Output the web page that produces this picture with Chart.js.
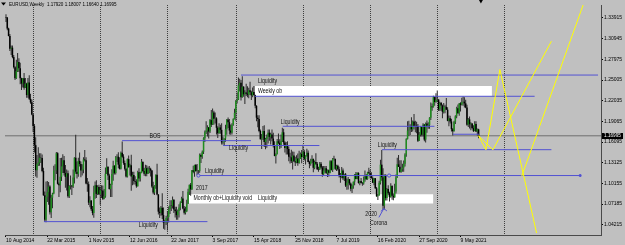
<!DOCTYPE html>
<html><head><meta charset="utf-8">
<script src="https://cdn.jsdelivr.net/npm/chart.js@4.4.0/dist/chart.umd.min.js"></script>
<style>html,body{margin:0;padding:0;background:#c0c0c0;overflow:hidden}canvas{display:block}</style>
</head><body><canvas id="c" width="625" height="245"></canvas>
<script>
// ---- EURUSD weekly candles, first bar = week of 10 Aug 2014 ----
const opens = [
1.3405,1.3400,1.3240,1.3132,1.2950,1.2965,1.2830,1.2685,1.2525,1.2630,
1.2760,1.2670,1.2525,1.2450,1.2525,1.2390,1.2450,1.2285,1.2465,1.2230,
1.2180,1.2005,1.1840,1.1565,1.1205,1.1290,1.1315,1.1385,1.1380,1.1195,
1.0845,1.0495,1.0825,1.0890,1.0970,1.0600,1.0810,1.0870,1.1200,1.1205,
1.1450,1.1010,1.0990,1.1110,1.1260,1.1350,1.1165,1.1110,1.1160,1.0830,
1.0980,1.0985,1.0970,1.1100,1.1385,1.1185,1.1150,1.1340,1.1295,1.1200,
1.1215,1.1360,1.1350,1.1015,1.1005,1.0740,1.0770,1.0645,1.0590,1.0885,
1.0990,1.0865,1.0965,1.0860,1.0920,1.0915,1.0795,1.0830,1.1155,1.1255,
1.1130,1.0935,1.0995,1.1150,1.1270,1.1165,1.1390,1.1400,1.1285,1.1225,
1.1455,1.1400,1.1310,1.1225,1.1115,1.1365,1.1250,1.1275,1.1115,1.1135,
1.1050,1.1040,1.0975,1.1175,1.1085,1.1165,1.1325,1.1195,1.1155,1.1235,
1.1155,1.1230,1.1225,1.1200,1.0970,1.0885,1.0985,1.1140,1.0855,1.0610,
1.0590,1.0665,1.0560,1.0450,1.0455,1.0520,1.0535,1.0645,1.0700,1.0695,
1.0780,1.0640,1.0615,1.0560,1.0620,1.0670,1.0740,1.0800,1.0655,1.0595,
1.0615,1.0725,1.0895,1.0995,1.0930,1.1205,1.1185,1.1280,1.1195,1.1200,
1.1195,1.1425,1.1400,1.1470,1.1665,1.1750,1.1775,1.1820,1.1760,1.1925,
1.1860,1.2035,1.1945,1.1950,1.1815,1.1735,1.1820,1.1785,1.1605,1.1610,
1.1660,1.1795,1.1935,1.1895,1.1775,1.1745,1.1860,1.1940,1.2030,1.2200,
1.2220,1.2425,1.2460,1.2255,1.2405,1.2295,1.2320,1.2305,1.2290,1.2355,
1.2325,1.2280,1.2330,1.2285,1.2130,1.1960,1.1940,1.1770,1.1650,1.1660,
1.1770,1.1610,1.1655,1.1685,1.1745,1.1685,1.1720,1.1660,1.1565,1.1410,
1.1440,1.1620,1.1600,1.1550,1.1625,1.1750,1.1605,1.1525,1.1560,1.1510,
1.1400,1.1390,1.1335,1.1415,1.1335,1.1315,1.1375,1.1310,1.1370,1.1440,
1.1395,1.1470,1.1365,1.1410,1.1455,1.1325,1.1295,1.1335,1.1365,1.1240,
1.1325,1.1300,1.1220,1.1215,1.1300,1.1245,1.1150,1.1200,1.1235,1.1160,
1.1205,1.1170,1.1335,1.1210,1.1370,1.1365,1.1225,1.1270,1.1220,1.1125,
1.1110,1.1200,1.1090,1.1145,1.0985,1.1025,1.1075,1.1015,1.0940,1.0980,
1.1040,1.1145,1.1080,1.1165,1.1020,1.1050,1.1020,1.1015,1.1060,1.1120,
1.1080,1.1175,1.1160,1.1120,1.1090,1.1025,1.1090,1.0945,1.0830,1.0845,
1.1025,1.1285,1.1105,1.0695,1.1140,1.0805,1.0935,1.0875,1.0820,1.0980,
1.0840,1.0815,1.0900,1.1100,1.1290,1.1255,1.1180,1.1220,1.1245,1.1300,
1.1430,1.1655,1.1775,1.1785,1.1840,1.1795,1.1905,1.1840,1.1845,1.1840,
1.1630,1.1715,1.1825,1.1715,1.1860,1.1645,1.1875,1.1835,1.1855,1.1960,
1.2120,1.2110,1.2255,1.2185,1.2215,1.2220,1.2080,1.2170,1.2135,1.2045,
1.2120,1.2115,1.2075,1.1915,1.1950,1.1905,1.1795,1.1765,1.1900,1.1980,
1.2095,1.2025,1.2165,1.2145,1.2180,1.2190,1.2165,1.2105,1.1860,1.1935,
1.1865,1.1875,1.1810,1.1770,1.1870,1.1760,1.1792];
const highs = [
1.3445,1.3401,1.3250,1.3160,1.2995,1.2995,1.2860,1.2700,1.2790,1.2887,
1.2815,1.2750,1.2535,1.2530,1.2600,1.2530,1.2460,1.2530,1.2570,1.2305,
1.2220,1.2010,1.1870,1.1680,1.1425,1.1535,1.1450,1.1450,1.1430,1.1240,
1.0900,1.1043,1.1050,1.1035,1.0990,1.0850,1.0880,1.1270,1.1290,1.1467,
1.1465,1.1030,1.1380,1.1385,1.1436,1.1410,1.1280,1.1215,1.1200,1.0990,
1.1130,1.0990,1.1215,1.1390,1.1714,1.1330,1.1385,1.1460,1.1330,1.1290,
1.1390,1.1495,1.1390,1.1095,1.1045,1.0830,1.0775,1.0690,1.0981,1.1043,
1.1060,1.0990,1.0995,1.0970,1.0990,1.0985,1.0935,1.1245,1.1376,1.1260,
1.1155,1.1010,1.1218,1.1340,1.1275,1.1410,1.1435,1.1464,1.1390,1.1475,
1.1616,1.1435,1.1345,1.1235,1.1375,1.1416,1.1300,1.1427,1.1185,1.1185,
1.1120,1.1075,1.1198,1.1235,1.1185,1.1366,1.1335,1.1240,1.1285,1.1275,
1.1260,1.1265,1.1240,1.1210,1.1040,1.0990,1.1145,1.1300,1.0865,1.0670,
1.0690,1.0874,1.0670,1.0495,1.0550,1.0620,1.0685,1.0775,1.0775,1.0829,
1.0790,1.0680,1.0680,1.0640,1.0715,1.0760,1.0825,1.0906,1.0690,1.0680,
1.0780,1.0940,1.1000,1.1023,1.1210,1.1268,1.1285,1.1296,1.1296,1.1205,
1.1445,1.1445,1.1490,1.1680,1.1776,1.1910,1.1850,1.1825,1.1940,1.2070,
1.2092,1.2060,1.2035,1.1965,1.1835,1.1880,1.1860,1.1880,1.1690,1.1665,
1.1860,1.1940,1.1961,1.1940,1.1862,1.1880,1.1950,1.2088,1.2215,1.2323,
1.2537,1.2520,1.2500,1.2555,1.2410,1.2355,1.2446,1.2410,1.2388,1.2475,
1.2345,1.2395,1.2414,1.2290,1.2140,1.1995,1.1995,1.1790,1.1725,1.1840,
1.1852,1.1670,1.1720,1.1790,1.1790,1.1745,1.1790,1.1745,1.1620,1.1445,
1.1655,1.1734,1.1650,1.1720,1.1815,1.1800,1.1620,1.1610,1.1620,1.1545,
1.1455,1.1500,1.1475,1.1470,1.1400,1.1420,1.1445,1.1486,1.1460,1.1497,
1.1570,1.1500,1.1420,1.1514,1.1490,1.1340,1.1370,1.1420,1.1375,1.1345,
1.1448,1.1325,1.1255,1.1325,1.1325,1.1265,1.1265,1.1265,1.1265,1.1215,
1.1215,1.1350,1.1348,1.1380,1.1412,1.1375,1.1285,1.1285,1.1255,1.1165,
1.1250,1.1230,1.1155,1.1165,1.1085,1.1109,1.1080,1.1030,1.1000,1.1045,
1.1150,1.1179,1.1175,1.1175,1.1055,1.1095,1.1035,1.1115,1.1200,1.1150,
1.1185,1.1239,1.1210,1.1175,1.1115,1.1095,1.1095,1.0965,1.0865,1.1055,
1.1355,1.1495,1.1235,1.1145,1.1145,1.0950,1.0990,1.0895,1.1019,1.0990,
1.0870,1.1010,1.1145,1.1384,1.1423,1.1350,1.1350,1.1300,1.1345,1.1450,
1.1665,1.1908,1.1915,1.1865,1.1966,1.1920,1.2011,1.1915,1.1900,1.1870,
1.1755,1.1835,1.1830,1.1880,1.1870,1.1890,1.1920,1.1895,1.1965,1.2177,
1.2165,1.2273,1.2260,1.2310,1.2349,1.2225,1.2190,1.2185,1.2150,1.2170,
1.2145,1.2243,1.2110,1.1990,1.1989,1.1945,1.1810,1.1915,1.1995,1.2115,
1.2150,1.2170,1.2180,1.2245,1.2265,1.2254,1.2218,1.2145,1.1955,1.1975,
1.1895,1.1880,1.1850,1.1910,1.1910,1.1805,1.18007];
const lows = [
1.3333,1.3216,1.3130,1.2919,1.2860,1.2815,1.2667,1.2500,1.2515,1.2615,
1.2615,1.2440,1.2357,1.2395,1.2360,1.2385,1.2245,1.2245,1.2215,1.2160,
1.1995,1.1754,1.1460,1.1115,1.1098,1.1265,1.1270,1.1310,1.1175,1.0840,
1.0460,1.0458,1.0750,1.0710,1.0570,1.0520,1.0660,1.0860,1.1060,1.1150,
1.1000,1.0819,1.0890,1.1050,1.1165,1.1130,1.0955,1.0915,1.0810,1.0808,
1.0930,1.0850,1.0950,1.1015,1.1155,1.1085,1.1110,1.1260,1.1105,1.1130,
1.1160,1.1330,1.1005,1.0895,1.0705,1.0675,1.0620,1.0558,1.0524,1.0795,
1.0805,1.0850,1.0850,1.0710,1.0805,1.0778,1.0790,1.0810,1.1150,1.1065,
1.0930,1.0822,1.0822,1.1055,1.1145,1.1145,1.1325,1.1235,1.1215,1.1215,
1.1385,1.1285,1.1200,1.1100,1.1100,1.1240,1.1130,1.0912,1.0990,1.1000,
1.1000,1.0952,1.0970,1.1045,1.1045,1.1160,1.1180,1.1125,1.1120,1.1120,
1.1150,1.1160,1.1115,1.0955,1.0860,1.0850,1.0940,1.0845,1.0570,1.0518,
1.0550,1.0505,1.0366,1.0352,1.0420,1.0341,1.0455,1.0575,1.0620,1.0655,
1.0590,1.0525,1.0494,1.0495,1.0525,1.0630,1.0735,1.0645,1.0570,1.0570,
1.0605,1.0720,1.0850,1.0840,1.0925,1.1160,1.1110,1.1185,1.1132,1.1120,
1.1170,1.1310,1.1370,1.1440,1.1610,1.1725,1.1690,1.1662,1.1740,1.1825,
1.1855,1.1860,1.1875,1.1717,1.1669,1.1730,1.1730,1.1575,1.1574,1.1553,
1.1615,1.1715,1.1810,1.1717,1.1715,1.1720,1.1845,1.1935,1.1916,1.2165,
1.2215,1.2335,1.2205,1.2245,1.2260,1.2155,1.2270,1.2255,1.2240,1.2285,
1.2215,1.2255,1.2280,1.2095,1.1910,1.1823,1.1750,1.1645,1.1510,1.1640,
1.1540,1.1508,1.1527,1.1590,1.1630,1.1575,1.1620,1.1530,1.1405,1.1301,
1.1430,1.1580,1.1510,1.1525,1.1610,1.1570,1.1460,1.1430,1.1430,1.1335,
1.1302,1.1310,1.1216,1.1325,1.1267,1.1305,1.1270,1.1300,1.1365,1.1305,
1.1390,1.1345,1.1289,1.1400,1.1320,1.1234,1.1270,1.1310,1.1176,1.1220,
1.1280,1.1210,1.1185,1.1210,1.1225,1.1110,1.1135,1.1170,1.1155,1.1107,
1.1115,1.1160,1.1200,1.1181,1.1345,1.1208,1.1195,1.1200,1.1100,1.1027,
1.1090,1.1065,1.1050,1.0965,1.0926,1.0927,1.0990,1.0905,1.0879,1.0940,
1.0990,1.1075,1.1075,1.1015,1.0989,1.1015,1.0981,1.0995,1.1040,1.1065,
1.1070,1.1155,1.1085,1.1085,1.1020,1.0990,1.0940,1.0825,1.0778,1.0840,
1.1000,1.1055,1.0636,1.0640,1.0770,1.0770,1.0845,1.0755,1.0810,1.0780,
1.0775,1.0810,1.0870,1.1095,1.1250,1.1170,1.1170,1.1185,1.1185,1.1260,
1.1400,1.1645,1.1695,1.1710,1.1755,1.1760,1.1790,1.1750,1.1735,1.1612,
1.1625,1.1690,1.1690,1.1690,1.1622,1.1603,1.1745,1.1800,1.1800,1.1925,
1.2060,1.2105,1.2130,1.2175,1.2190,1.2055,1.2055,1.2060,1.1952,1.2020,
1.2023,1.2070,1.1910,1.1835,1.1875,1.1760,1.1704,1.1760,1.1870,1.1950,
1.2015,1.1986,1.2050,1.2135,1.2130,1.2105,1.2095,1.1845,1.1825,1.1805,
1.1780,1.1795,1.1755,1.1765,1.1755,1.1705,1.1664];
const closes = [
1.3400,1.3240,1.3132,1.2950,1.2965,1.2830,1.2685,1.2525,1.2630,1.2760,
1.2670,1.2525,1.2450,1.2525,1.2390,1.2450,1.2285,1.2465,1.2230,1.2180,
1.2005,1.1840,1.1565,1.1205,1.1290,1.1315,1.1385,1.1380,1.1195,1.0845,
1.0495,1.0825,1.0890,1.0970,1.0600,1.0810,1.0870,1.1200,1.1205,1.1450,
1.1010,1.0990,1.1110,1.1260,1.1350,1.1165,1.1110,1.1160,1.0830,1.0980,
1.0985,1.0970,1.1100,1.1385,1.1185,1.1150,1.1340,1.1295,1.1200,1.1215,
1.1360,1.1350,1.1015,1.1005,1.0740,1.0770,1.0645,1.0590,1.0885,1.0990,
1.0865,1.0965,1.0860,1.0920,1.0915,1.0795,1.0830,1.1155,1.1255,1.1130,
1.0935,1.0995,1.1150,1.1270,1.1165,1.1390,1.1400,1.1285,1.1225,1.1455,
1.1400,1.1310,1.1225,1.1115,1.1365,1.1250,1.1275,1.1115,1.1135,1.1050,
1.1040,1.0975,1.1175,1.1085,1.1165,1.1325,1.1195,1.1155,1.1235,1.1155,
1.1230,1.1225,1.1200,1.0970,1.0885,1.0985,1.1140,1.0855,1.0610,1.0590,
1.0665,1.0560,1.0450,1.0455,1.0520,1.0535,1.0645,1.0700,1.0695,1.0780,
1.0640,1.0615,1.0560,1.0620,1.0670,1.0740,1.0800,1.0655,1.0595,1.0615,
1.0725,1.0895,1.0995,1.0930,1.1205,1.1185,1.1280,1.1195,1.1200,1.1195,
1.1425,1.1400,1.1470,1.1665,1.1750,1.1775,1.1820,1.1760,1.1925,1.1860,
1.2035,1.1945,1.1950,1.1815,1.1735,1.1820,1.1785,1.1605,1.1610,1.1660,
1.1795,1.1935,1.1895,1.1775,1.1745,1.1860,1.1940,1.2030,1.2200,1.2220,
1.2425,1.2460,1.2255,1.2405,1.2295,1.2320,1.2305,1.2290,1.2355,1.2325,
1.2280,1.2330,1.2285,1.2130,1.1960,1.1940,1.1770,1.1650,1.1660,1.1770,
1.1610,1.1655,1.1685,1.1745,1.1685,1.1720,1.1660,1.1565,1.1410,1.1440,
1.1620,1.1600,1.1550,1.1625,1.1750,1.1605,1.1525,1.1560,1.1510,1.1400,
1.1390,1.1335,1.1415,1.1335,1.1315,1.1375,1.1310,1.1370,1.1440,1.1395,
1.1470,1.1365,1.1410,1.1455,1.1325,1.1295,1.1335,1.1365,1.1240,1.1325,
1.1300,1.1220,1.1215,1.1300,1.1245,1.1150,1.1200,1.1235,1.1160,1.1205,
1.1170,1.1335,1.1210,1.1370,1.1365,1.1225,1.1270,1.1220,1.1125,1.1110,
1.1200,1.1090,1.1145,1.0985,1.1025,1.1075,1.1015,1.0940,1.0980,1.1040,
1.1145,1.1080,1.1165,1.1020,1.1050,1.1020,1.1015,1.1060,1.1120,1.1080,
1.1175,1.1160,1.1120,1.1090,1.1025,1.1090,1.0945,1.0830,1.0845,1.1025,
1.1285,1.1105,1.0695,1.1140,1.0805,1.0935,1.0875,1.0820,1.0980,1.0840,
1.0815,1.0900,1.1100,1.1290,1.1255,1.1180,1.1220,1.1245,1.1300,1.1430,
1.1655,1.1775,1.1785,1.1840,1.1795,1.1905,1.1840,1.1845,1.1840,1.1630,
1.1715,1.1825,1.1715,1.1860,1.1645,1.1875,1.1835,1.1855,1.1960,1.2120,
1.2110,1.2255,1.2185,1.2215,1.2220,1.2080,1.2170,1.2135,1.2045,1.2120,
1.2115,1.2075,1.1915,1.1950,1.1905,1.1795,1.1765,1.1900,1.1980,1.2095,
1.2025,1.2165,1.2145,1.2180,1.2190,1.2165,1.2105,1.1860,1.1935,1.1865,
1.1875,1.1810,1.1770,1.1870,1.1760,1.1795,1.16995];

// ---- axes ----
const priceTicks = [1.33915,1.30945,1.27975,1.25005,1.22035,1.19065,1.16095,1.13125,1.10155,1.07185,1.04215];
const dateTickWeeks = [0,32,64,96,128,160,192,224,256,288,320,352];
const dateTickLabels = ['10 Aug 2014','22 Mar 2015','1 Nov 2015','12 Jun 2016','22 Jan 2017','3 Sep 2017','15 Apr 2018','25 Nov 2018','7 Jul 2019','16 Feb 2020','27 Sep 2020','9 May 2021'];
const yearSeparatorWeeks = [21,73,125,178,230,282,334,386];
const lastPrice = 1.16995;
const headerText = 'EURUSD,Weekly  1.17920 1.18007 1.16640 1.16995';

// ---- drawn objects (week index, price) ----
const levelLines = [ // [fromWeek, toWeek, price]
  [89.9, 189.7, 1.1630],
  [168.2, 242.7, 1.1560],
  [182.0, 458.5, 1.2572],
  [192.8, 409.4, 1.2267],
  [214.3, 331.8, 1.1836],
  [346.2, 366.4, 1.1722],
  [291.1, 422.4, 1.1500],
  [29.4, 156.0, 1.0467]
];
const rayWeeks = [149.0, 296.7, 444.7];
const rayPrice = 1.1129;
const boxes = [ // [fromWeek, toWeek, top, bottom]
  [192.8, 376.3, 1.2416, 1.2267],
  [141.3, 331.0, 1.0861, 1.0729]
];
const projections = [
  [[366, 1.16995], [371.7, 1.1498], [382.5, 1.2651], [410.9, 1.0303]],
  [[366, 1.16995], [377.1, 1.1498], [422.4, 1.3058]],
  [[399.4, 1.1119], [452.4, 1.3860]]
];
const arrowPaths = [
  [[288.8, 1.0528], [292.6, 1.0655]],
  [[290.3, 1.0613], [292.6, 1.0655], [295.0, 1.0620]]
];
const notes = [
  ['BOS', 111.1, 1.1695],
  ['Liquidity', 172.8, 1.1526],
  ['Liquidity', 195.1, 1.2484],
  ['Weekly ob', 195.1, 1.2342],
  ['Liquidity', 212.7, 1.1892],
  ['Liquidity', 288.0, 1.1564],
  ['Liquidity', 154.1, 1.1189],
  ['2017', 147.2, 1.0954],
  ['Monthly ob+Liquidity void', 145.2, 1.0802],
  ['Liquidity', 195.1, 1.0805],
  ['2020', 278.3, 1.0580],
  ['Corona', 281.9, 1.0440],
  ['Liquidity', 102.9, 1.0416]
];

// ---- view ----
const X_MIN = -0.77, X_MAX = 460.8, Y_MIN = 1.0275, Y_MAX = 1.3578;
const BLUE = '#5252d2', YELLOW = '#ffff00', BULL = '#1e8e1e', BEAR = '#000000', WICK = '#2a2a2a';
const FONT = "'Liberation Sans',Arial,sans-serif";

const weeks = opens.map((_, i) => i);
const datasets = [];
boxes.forEach(([a, b, t, btm]) => datasets.push({
  type: 'line', data: [{x: a, y: t}, {x: b, y: t}], fill: {value: btm},
  backgroundColor: '#ffffff', borderColor: 'rgba(0,0,0,0)', pointRadius: 0, order: 30
}));
datasets.push({
  type: 'line', data: [{x: X_MIN, y: lastPrice}, {x: X_MAX, y: lastPrice}],
  borderColor: '#6f6f6f', borderWidth: 1, pointRadius: 0, order: 25
});
datasets.push({
  type: 'bar', data: weeks.map(i => ({x: i, y: [lows[i], highs[i]]})),
  backgroundColor: WICK, barThickness: 1, grouped: false, inflateAmount: 0,
  borderWidth: 0, borderSkipped: false, order: 20
});
datasets.push({
  type: 'bar', data: weeks.map(i => ({x: i, y: [opens[i], closes[i]]})),
  backgroundColor: weeks.map(i => closes[i] >= opens[i] ? BULL : BEAR),
  barThickness: 1.5, grouped: false, inflateAmount: 0,
  borderWidth: 0, borderSkipped: false, order: 19
});
levelLines.forEach(([a, b, p]) => datasets.push({
  type: 'line', data: [{x: a, y: p}, {x: b, y: p}],
  borderColor: BLUE, borderWidth: 1, pointRadius: 0, order: 5
}));
datasets.push({
  type: 'line', data: rayWeeks.map(w => ({x: w, y: rayPrice})),
  borderColor: BLUE, borderWidth: 1, pointRadius: [1.6, 1.6, 1.2],
  pointStyle: ['circle', 'circle', 'rect'], pointBorderColor: BLUE,
  pointBackgroundColor: ['#c0c0c0', '#c0c0c0', BLUE], pointBorderWidth: 1, order: 5
});
arrowPaths.forEach(p => datasets.push({
  type: 'line', data: p.map(([w, v]) => ({x: w, y: v})),
  borderColor: BLUE, borderWidth: 1, pointRadius: 0, order: 5
}));
projections.forEach(p => datasets.push({
  type: 'line', data: p.map(([w, v]) => ({x: w, y: v})),
  borderColor: YELLOW, borderWidth: 1, pointRadius: 0, order: 2
}));

function squeezedText(ctx, text, px, py, sx) {
  ctx.save(); ctx.translate(px, py); ctx.scale(sx, 1); ctx.fillText(text, 0, 0); ctx.restore();
}

const overlay = {
  id: 'overlay',
  beforeDatasetsDraw(chart) {
    const {ctx, chartArea: a, scales: {x}} = chart;
    ctx.save();
    ctx.strokeStyle = '#3e3e3e'; ctx.lineWidth = 1; ctx.setLineDash([1, 1]);
    yearSeparatorWeeks.forEach(w => {
      const px = Math.round(x.getPixelForValue(w)) + 0.5;
      ctx.beginPath(); ctx.moveTo(px, a.top); ctx.lineTo(px, a.bottom); ctx.stroke();
    });
    ctx.restore();
  },
  afterDraw(chart) {
    const {ctx, chartArea: a, scales: {x, y}} = chart;
    ctx.save();
    ctx.textBaseline = 'middle';
    ctx.font = '6.5px ' + FONT;
    ctx.fillStyle = '#111';
    notes.forEach(([t, w, p]) => squeezedText(ctx, t, x.getPixelForValue(w), y.getPixelForValue(p), 0.8));
    // header
    ctx.fillStyle = '#000';
    ctx.beginPath(); ctx.moveTo(1, 2.5); ctx.lineTo(6, 2.5); ctx.lineTo(3.5, 5.5); ctx.closePath(); ctx.fill();
    ctx.font = '6px ' + FONT;
    squeezedText(ctx, headerText, 9, 4.5, 0.76);
    // shift marker
    const sx = x.getPixelForValue(367.8);
    ctx.beginPath(); ctx.moveTo(sx - 2, 0); ctx.lineTo(sx + 2, 0); ctx.lineTo(sx, 3.5); ctx.closePath(); ctx.fill();
    // last price tag
    const py = y.getPixelForValue(lastPrice);
    ctx.fillStyle = '#000'; ctx.fillRect(a.right + 1, Math.round(py) - 3, 21, 6);
    ctx.fillStyle = '#fff'; ctx.font = '6px ' + FONT;
    squeezedText(ctx, lastPrice.toFixed(5), a.right + 3, py, 0.78);
    ctx.restore();
  }
};

const zeroPad = s => { s.paddingLeft = 0; s.paddingRight = 0; s.paddingTop = 0; s.paddingBottom = 0; };
new Chart(document.getElementById('c'), {
  type: 'bar',
  data: {datasets},
  options: {
    responsive: false, animation: false, devicePixelRatio: 1,
    layout: {padding: 0},
    plugins: {legend: {display: false}, tooltip: {enabled: false}},
    scales: {
      x: {
        type: 'linear', position: 'bottom', min: X_MIN, max: X_MAX, offset: false,
        grid: {display: true, drawOnChartArea: false, drawTicks: true, tickLength: 2, color: '#000', offset: false},
        border: {display: true, color: '#4a4a4a', width: 1},
        ticks: {autoSkip: false, maxRotation: 0, minRotation: 0, align: 'start', padding: 1, color: '#000',
          font: {family: FONT, size: 5},
          callback: v => dateTickLabels[dateTickWeeks.indexOf(v)] ?? ''},
        afterBuildTicks: s => { s.ticks = dateTickWeeks.map(v => ({value: v})); },
        afterFit: s => { s.height = 10; zeroPad(s); }
      },
      y: {
        type: 'linear', position: 'right', min: Y_MIN, max: Y_MAX, beginAtZero: false,
        grid: {display: true, drawOnChartArea: false, drawTicks: true, tickLength: 2, color: '#000'},
        border: {display: true, color: '#4a4a4a', width: 1},
        ticks: {padding: 1, color: '#000', font: {family: FONT, size: 5}, callback: v => Number(v).toFixed(5)},
        afterBuildTicks: s => { s.ticks = priceTicks.map(v => ({value: v})); },
        afterFit: s => { s.width = 24; zeroPad(s); }
      }
    }
  },
  plugins: [overlay]
});
</script>
</body></html>
